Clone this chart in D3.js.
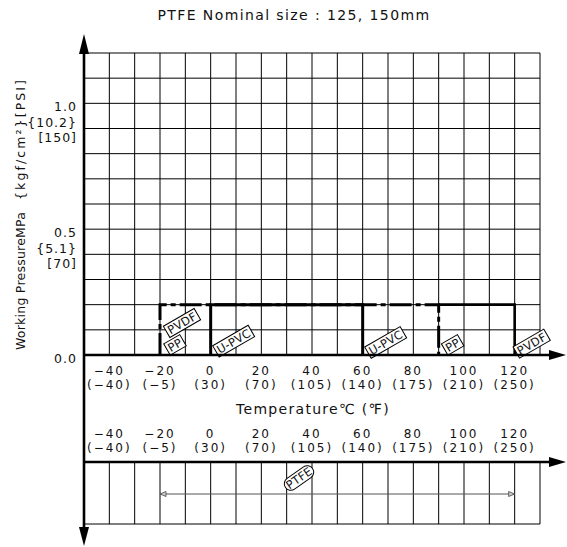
<!DOCTYPE html>
<html>
<head>
<meta charset="utf-8">
<script src="https://cdn.jsdelivr.net/npm/d3@7"></script>
<style>
  body { margin: 0; background: #fff; }
  text { font-family: "DejaVu Sans", sans-serif; fill: #111; }
</style>
</head>
<body>
<div id="chart"></div>
<script>
// temperature ticks (deg C) and their fahrenheit labels
var tempTicks = [-40, -20, 0, 20, 40, 60, 80, 100, 120];
var fahrLabels = ["(\u221240)", "(\u22125)", "(30)", "(70)", "(105)", "(140)", "(175)", "(210)", "(250)"];

// pressure ticks (MPa) with kgf/cm2 and PSI labels
var pressTicks = [1.0, 0.5, 0.0];
var kgfLabels = ["{10.2}", "{5.1}", ""];
var psiLabels = ["[150]", "[70]", ""];

// materials: temperature range at working pressure
var materials = ["U-PVC", "PP", "PVDF"];
var minTemp = [0, -20, -20];
var maxTemp = [60, 90, 120];
var maxPress = [0.2, 0.2, 0.2];

// PTFE range (lower band)
var ptfeRange = [-20, 120];

var width = 567, height = 547;

var svg = d3.select("#chart")
    .append("svg")
    .attr("width", width)
    .attr("height", height);

var x = d3.scaleLinear().domain([-50, 130]).range([84, 540]);
var y = d3.scaleLinear().domain([0, 1.2]).range([355, 53]);

var y0 = y(0);       // upper temperature axis
var y2 = 462;        // lower temperature axis
var yBottom = 524;   // bottom of lower band

// grid (upper)
var gridX = d3.range(-50, 131, 10);
var gridY = d3.range(0, 1.21, 0.1);
var grid = svg.append("g").attr("stroke", "#000").attr("stroke-width", 1);
grid.selectAll("line.v")
    .data(gridX)
    .enter()
    .append("line")
    .attr("x1", function(d) { return x(d); })
    .attr("x2", function(d) { return x(d); })
    .attr("y1", y(1.2))
    .attr("y2", y0);
grid.selectAll("line.h")
    .data(gridY)
    .enter()
    .append("line")
    .attr("x1", x(-50))
    .attr("x2", x(130))
    .attr("y1", function(d) { return y(d); })
    .attr("y2", function(d) { return y(d); });

// grid (lower band)
grid.selectAll("line.lv")
    .data(gridX)
    .enter()
    .append("line")
    .attr("x1", function(d) { return x(d); })
    .attr("x2", function(d) { return x(d); })
    .attr("y1", y2)
    .attr("y2", yBottom);
grid.append("line")
    .attr("x1", x(-50)).attr("x2", x(130))
    .attr("y1", yBottom).attr("y2", yBottom);

// material limit lines
var lineGen = d3.line()
    .x(function(d) { return x(d[0]); })
    .y(function(d) { return y(d[1]); });

var idx = function(name) { return materials.indexOf(name); };
var pp = idx("PP"), pv = idx("PVDF"), up = idx("U-PVC");

svg.append("path")
    .attr("d", lineGen([[minTemp[pp], 0], [minTemp[pp], maxPress[pp]], [maxTemp[pp], maxPress[pp]], [maxTemp[pp], 0]]))
    .attr("fill", "none")
    .attr("stroke", "#000")
    .attr("stroke-width", 3)
    .attr("stroke-dasharray", "22,4,5,4");

svg.append("path")
    .attr("d", lineGen([[minTemp[up], 0], [minTemp[up], maxPress[up]], [maxTemp[up], maxPress[up]], [maxTemp[up], 0]]))
    .attr("fill", "none")
    .attr("stroke", "#000")
    .attr("stroke-width", 3);

// PVDF only where it runs beyond PP
svg.append("path")
    .attr("d", lineGen([[maxTemp[pp], maxPress[pv]], [maxTemp[pv], maxPress[pv]], [maxTemp[pv], 0]]))
    .attr("fill", "none")
    .attr("stroke", "#000")
    .attr("stroke-width", 2.6);

// boxed, rotated material labels
function boxLabel(px, py, txt, angle, rounded) {
    var g = svg.append("g")
        .attr("transform", "translate(" + px + "," + py + ") rotate(" + angle + ")");
    var t = g.append("text")
        .attr("text-anchor", "middle")
        .attr("dy", "0.36em")
        .style("font-size", "11.5px")
        .style("letter-spacing", "0.3px")
        .text(txt);
    var bb = t.node().getBBox();
    var h = 13;
    g.insert("rect", "text")
        .attr("x", bb.x - 2)
        .attr("y", -h / 2)
        .attr("width", bb.width + 4)
        .attr("height", h)
        .attr("rx", rounded ? h / 2 : 0)
        .attr("fill", "#fff")
        .attr("stroke", "#000")
        .attr("stroke-width", 1);
}

// label positions: just right of each limit line
boxLabel(x(minTemp[pv]) + 22, y(0.127), "PVDF", -30);
boxLabel(x(minTemp[pp]) + 15, y(0.04), "PP", -30);
boxLabel(x(minTemp[up]) + 23, y(0.055), "U-PVC", -30);
boxLabel(x(maxTemp[up]) + 23, y(0.05), "U-PVC", -30);
boxLabel(x(maxTemp[pp]) + 14, y(0.04), "PP", -30);
boxLabel(x(maxTemp[pv]) + 17, y(0.045), "PVDF", -30);

// PTFE range arrow in the lower band
var yArrow = 494;
svg.append("line")
    .attr("x1", x(ptfeRange[0])).attr("x2", x(ptfeRange[1]))
    .attr("y1", yArrow).attr("y2", yArrow)
    .attr("stroke", "#555")
    .attr("stroke-width", 1.2);
[[ptfeRange[0], 1], [ptfeRange[1], -1]].forEach(function(a) {
    var tx = x(a[0]);
    svg.append("path")
        .attr("d", "M" + tx + "," + yArrow + "L" + (tx + a[1] * 6) + "," + (yArrow - 2.5) +
            "L" + (tx + a[1] * 6) + "," + (yArrow + 2.5) + "Z")
        .attr("fill", "#ccc")
        .attr("stroke", "#444")
        .attr("stroke-width", 0.8);
});
boxLabel(299, 478, "PTFE", -35, true);

// axes
var axes = svg.append("g").attr("stroke", "#000").attr("stroke-width", 2.6);
axes.append("line").attr("x1", x(-50)).attr("x2", x(-50)).attr("y1", 50).attr("y2", 530);
axes.append("line").attr("x1", x(-50)).attr("x2", 552).attr("y1", y0).attr("y2", y0);
axes.append("line").attr("x1", x(-50)).attr("x2", 552).attr("y1", y2).attr("y2", y2);

var ax = x(-50);
var arrows = [
    "M" + ax + ",34L" + (ax - 5) + ",54L" + (ax + 5) + ",54Z",
    "M" + ax + ",546L" + (ax - 5) + ",527L" + (ax + 5) + ",527Z",
    "M566," + y0 + "L549," + (y0 - 5) + "L549," + (y0 + 5) + "Z",
    "M566," + y2 + "L549," + (y2 - 5) + "L549," + (y2 + 5) + "Z"
];
svg.selectAll("path.arrow")
    .data(arrows)
    .enter()
    .append("path")
    .attr("d", function(d) { return d; })
    .attr("fill", "#000");

// temperature tick labels, two sets
function tempLabels(baseC, baseF) {
    svg.selectAll(null)
        .data(tempTicks)
        .enter()
        .append("text")
        .attr("x", function(d) { return x(d); })
        .attr("y", baseC)
        .attr("text-anchor", "middle")
        .style("font-size", "12px")
        .style("letter-spacing", "2px")
        .text(function(d) { return d < 0 ? "\u2212" + Math.abs(d) : d; });
    svg.selectAll(null)
        .data(fahrLabels)
        .enter()
        .append("text")
        .attr("x", function(d, i) { return x(tempTicks[i]); })
        .attr("y", baseF)
        .attr("text-anchor", "middle")
        .style("font-size", "12px")
        .style("letter-spacing", "2px")
        .text(function(d) { return d; });
}
tempLabels(375, 389);
tempLabels(438, 452);

svg.append("text")
    .attr("x", 313)
    .attr("y", 414)
    .attr("text-anchor", "middle")
    .style("font-size", "14px")
    .style("letter-spacing", "1.3px")
    .text("Temperature\u2103 (\u2109)");

// pressure labels
pressTicks.forEach(function(p, i) {
    var yy = y(p) + 8;
    [String(p.toFixed(1)), kgfLabels[i], psiLabels[i]].forEach(function(s, j) {
        if (!s) return;
        svg.append("text")
            .attr("x", 77)
            .attr("y", yy + j * 15.5)
            .attr("text-anchor", "end")
            .style("font-size", "12.5px")
            .style("letter-spacing", "1px")
            .text(s);
    });
});

// y axis title
svg.append("text")
    .attr("transform", "translate(25,281) rotate(-90)")
    .attr("text-anchor", "middle")
    .attr("textLength", 138)
    .style("font-size", "12.5px")
    .text("Working PressureMPa");
svg.append("text")
    .attr("transform", "translate(25,140) rotate(-90)")
    .attr("text-anchor", "middle")
    .attr("textLength", 120)
    .style("font-size", "12.5px")
    .text("{kgf/cm\u00b2}[PSI]");

// title
svg.append("text")
    .attr("x", 294)
    .attr("y", 20)
    .attr("text-anchor", "middle")
    .style("font-size", "14px")
    .style("letter-spacing", "1.4px")
    .text("PTFE Nominal size : 125, 150mm");
</script>
</body>
</html>
